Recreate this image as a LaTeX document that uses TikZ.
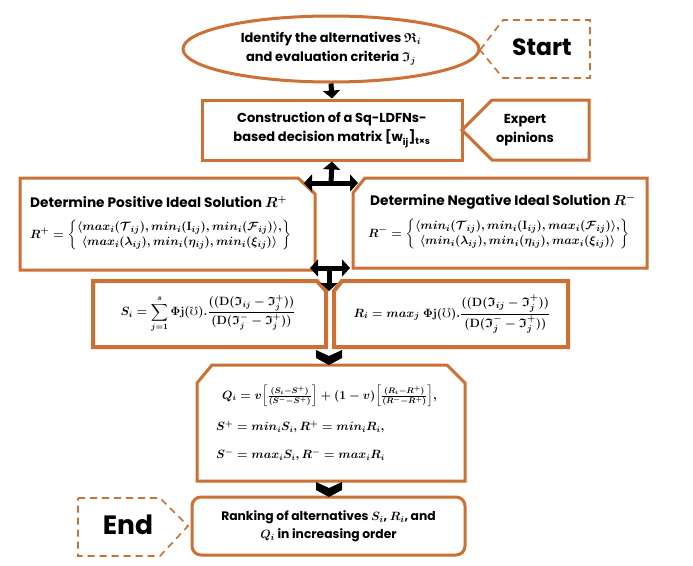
\documentclass[tikz,border=0pt]{standalone}
\usepackage{amsmath,amssymb,bm}
\usepackage{fontspec}
\setmainfont{Poppins}
\usetikzlibrary{arrows.meta,shapes.geometric}
\definecolor{org}{RGB}{204,112,52}
\tikzset{
  obox/.style={draw=org, line width=3pt, fill=white},
  dbox/.style={draw=org, line width=1.6pt, dash pattern=on 7pt off 5pt},
  txt/.style={font=\bfseries\fontsize{13}{19}\selectfont, align=center, inner sep=0pt},
  ttl/.style={font=\bfseries\fontsize{13.7}{15}\selectfont, inner sep=0pt, anchor=west},
  mth/.style={font=\fontsize{12.5}{15}\selectfont\boldmath, inner sep=0pt},
  big/.style={font=\bfseries\fontsize{25}{30}\selectfont, inner sep=0pt},
  blk/.style={black, line width=5pt},
  btip/.tip={Triangle[width=17pt,length=8pt]},
}
\begin{document}
\begin{tikzpicture}[x=1pt,y=-1pt]
\fill[white] (0,0) rectangle (693,565);
\useasboundingbox (0,0) rectangle (693,565);

% Start
\draw[dbox] (480,50) -- (503,20) -- (590,20) -- (590,78) -- (503,78) -- cycle;
\node[big, font=\bfseries\fontsize{23.5}{28}\selectfont] (start) at (542,47) {Start};

% identify
\node[ellipse, obox, minimum width=296pt, minimum height=66pt, txt] (ident) at (331,49)
  {Identify the alternatives {\boldmath$\mathfrak{R}_i$}\\ and evaluation criteria {\boldmath$\mathfrak{I}_j$}};

% construction
\node[obox, minimum width=260pt, minimum height=60pt, txt] (constr) at (332,130)
  {Construction of a Sq-LDFNs-\\based decision matrix [w\textsubscript{ij}]\textsubscript{t×s}};

% expert
\draw[obox] (462,130) -- (492,100) -- (589,100) -- (589,160) -- (492,160) -- cycle;
\node[txt] (expert) at (525,130) {Expert\\opinions};

% positive / negative
\draw[obox] (20,178) -- (298,178) -- (315,194) -- (315,270) -- (20,270) -- cycle;
\node[ttl] (post) at (30,202) {Determine Positive Ideal Solution {\boldmath$R^{+}$}};
\node[mth, anchor=west] (posf) at (30,235) {$\bm{R^{+}} = \left\{\begin{matrix}\bm{\langle max_i(\mathcal{T}_{ij}), min_i(\mathbf{I}_{ij}), min_i(\mathcal{F}_{ij})\rangle,}\\ \bm{\langle max_i(\lambda_{ij}), min_i(\eta_{ij}), min_i(\xi_{ij})\rangle}\end{matrix}\right\}$};

\draw[obox] (365,178) -- (647,178) -- (647,268) -- (353,268) -- (353,193) -- cycle;
\node[ttl] (negt) at (370,202) {Determine Negative Ideal Solution {\boldmath$R^{-}$}};
\node[mth, anchor=west] (negf) at (368,234) {$\bm{R^{-}} = \left\{\begin{matrix}\bm{\langle min_i(\mathcal{T}_{ij}), min_i(\mathbf{I}_{ij}), max_i(\mathcal{F}_{ij})\rangle,}\\ \bm{\langle min_i(\lambda_{ij}), min_i(\eta_{ij}), max_i(\xi_{ij})\rangle}\end{matrix}\right\}$};

% S_i / R_i boxes
\draw[obox, line width=4pt] (93,281) -- (317,281) -- (326,291) -- (326,347) -- (93,347) -- cycle;
\draw[obox, line width=4pt] (334,291) -- (342,281) -- (568,281) -- (568,347) -- (334,347) -- cycle;
\node[mth, font=\fontsize{12}{15}\selectfont\boldmath] (sf) at (208,314) {$\displaystyle \bm{S_i} = \sum_{j=1}^{s} \mathbf{\Phi j}(\mho).\frac{((\mathbf{D}(\bm{\mathfrak{I}}_{ij} - \bm{\mathfrak{I}}_j^{+}))}{(\mathbf{D}(\bm{\mathfrak{I}}_j^{-} - \bm{\mathfrak{I}}_j^{+}))}$};
\node[mth] (rf) at (452,314) {$\displaystyle \bm{R_i = max_j}\ \mathbf{\Phi j}(\mho).\frac{((\mathbf{D}(\bm{\mathfrak{I}}_{ij} - \bm{\mathfrak{I}}_j^{+}))}{(\mathbf{D}(\bm{\mathfrak{I}}_j^{-} - \bm{\mathfrak{I}}_j^{+}))}$};

% Q box
\draw[obox] (212,365) -- (447,365) -- (465,383) -- (465,481) -- (197,481) -- (197,383) -- cycle;
\node[mth, font=\fontsize{12}{15}\selectfont\boldmath, anchor=west] (q1) at (222,396) {$\bm{Q_i = v}\Bigl[\tfrac{\bm{(S_i - S^{+})}}{\bm{(S^{-} - S^{+})}}\Bigr] + \bm{(1-v)}\Bigl[\tfrac{\bm{(R_i - R^{+})}}{\bm{(R^{-} - R^{+})}}\Bigr],$};
\node[mth, font=\fontsize{12}{15}\selectfont\boldmath, anchor=west] (q2) at (216,427) {$\bm{S^{+} = min_i S_i, R^{+} = min_i R_i,}$};
\node[mth, font=\fontsize{12}{15}\selectfont\boldmath, anchor=west] (q3) at (216,455) {$\bm{S^{-} = max_i S_i, R^{-} = max_i R_i}$};

% ranking
\node[obox, rounded corners=9pt, minimum width=273pt, minimum height=58pt, txt, font=\bfseries\fontsize{12.3}{18}\selectfont] (rank) at (328.5,526)
  {Ranking of alternatives {\boldmath$\bm{S_i}$, $\bm{R_i}$}, and\\ {\boldmath$\bm{Q_i}$} in increasing order};

% End
\draw[dbox] (78,498) -- (160,498) -- (188,526) -- (160,556) -- (78,556) -- cycle;
\node[big, font=\bfseries\fontsize{26.5}{30}\selectfont] (endn) at (128,525) {End};

% connectors
\draw[blk, -{btip}] (ident.south) -- (constr.north);
\coordinate (tA) at (331,183);
\coordinate (tL) at (304,183);
\coordinate (tR) at (358,183);
\draw[blk, -{btip}] (tA) -- (constr.south);
\draw[blk, {btip}-{btip}] (tL) -- (tR);
\coordinate (bA) at (329,268);
\coordinate (bL) at (310,268);
\coordinate (bR) at (350,268);
\coordinate (bD) at (329,291);
\draw[blk, {btip}-{btip}] (bL) -- (bR);
\draw[blk, -{btip}] (bA) -- (bD);

% chevrons
\fill[black] (329,350) ++(-13,0) -- ++(13,6) -- ++(13,-6) -- ++(0,8) -- ++(-13,7) -- ++(-13,-7) -- cycle;
\fill[black] (329,482) ++(-13,0) -- ++(13,6) -- ++(13,-6) -- ++(0,8) -- ++(-13,7) -- ++(-13,-7) -- cycle;
\end{tikzpicture}
\end{document}
